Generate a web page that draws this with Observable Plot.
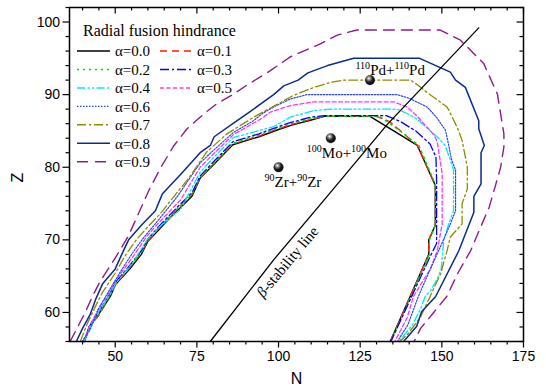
<!DOCTYPE html>
<html><head><meta charset="utf-8">
<script src="https://cdn.jsdelivr.net/npm/d3@7"></script>
<script src="https://cdn.jsdelivr.net/npm/@observablehq/plot@0.6"></script>
<style>
body{margin:0;background:#fff;}
#chart{width:546px;height:392px;}
</style></head><body><div id="chart"></div>
<script>
// ---------- data ----------
const xMajor = [50, 75, 100, 125, 150, 175];
const yMajor = [60, 70, 80, 90, 100];
const xMinor = [40,45,55,60,65,70,80,85,90,95,105,110,115,120,130,135,140,145,155,160,165,170];
const yMinor = [56,58,62,64,66,68,72,74,76,78,82,84,86,88,92,94,96,98,102];

const legendTitle = "Radial fusion hindrance";
const alphaLabels = ["α=0.0","α=0.1","α=0.2","α=0.3","α=0.4","α=0.5","α=0.6","α=0.7","α=0.8","α=0.9"];

const a00 = [[40.5,56],[42,58],[45,59.8],[48.5,62.2],[50,63.8],[54.5,66],[58,68],[60,69.8],[63,71.2],[66,72.7],[69,74],[73.5,76],[76,78.5],[80,80.3],[86,83.1],[94,84.2],[100,85.2],[104,85.8],[110,86.5],[114,87],[128,87],[142.5,83],[147.5,78],[148,77.5],[148,72],[146,70],[146,68],[134.2,56]];
const a01 = [[40.5,56],[42,58],[45,59.6],[48.5,62.4],[50,63.8],[54.5,66.2],[58,68.2],[60,69.8],[63,71.4],[66,72.8],[69,74.2],[73.5,76.2],[76,78.5],[80,80.4],[86,83.2],[94,84.3],[100,85.3],[104,85.9],[110,86.6],[114,87],[130,87],[134,86.3],[142.5,83],[147.5,78],[148,77.5],[148,72],[146,70],[146,68],[134.2,56]];
const a02 = [[40.6,56],[42.2,58],[45,59.9],[48.5,62.5],[50,64],[54.5,66.3],[58,68.3],[60,70],[63,71.5],[66,72.9],[69,74.3],[73.5,76.3],[76,78.6],[80,80.5],[86,83.3],[94,84.4],[100,85.4],[104,86],[110,86.7],[114,87],[131,87],[136.3,85.3],[143,83],[147.7,78],[148,77.5],[148,72],[146.2,70],[146.2,68],[134.4,56]];
const a03 = [[40.6,56],[42.3,58.2],[45,60.1],[48.5,62.7],[50,64.1],[54.5,66.5],[58,68.5],[60,70.1],[63,71.7],[66,73.1],[69,74.5],[73.5,76.5],[76,78.8],[80,80.7],[86,83.5],[94,84.6],[100,85.6],[104,86.2],[110,86.9],[114,87.1],[133,87.1],[137.3,86.3],[142,85],[146.4,83.2],[148.2,81.4],[148.4,78],[148.4,69.5],[146.2,67.5],[134.4,56]];
const a04 = [[40.5,56],[42.3,58],[45.4,60.4],[48.5,62.6],[50,63.9],[55.6,67],[59.7,70],[63,71.6],[70,74.2],[76,79.3],[80,81.3],[86.2,84.1],[92,84.8],[98.5,85.6],[103.6,86.9],[110.8,87.8],[116,88],[136.3,88],[139.4,87.4],[142.5,86.6],[146,85.2],[149,84],[151,83],[152.6,81],[153.6,79.6],[153.6,74],[152.1,72.2],[150.6,70],[149.8,66],[148.5,64.5],[146.5,63],[144.9,62.2],[143.5,60.5],[141,58.3],[136.9,56]];
const a05 = [[40.3,56],[42.2,58.2],[45,60.6],[48.5,63],[50,64.3],[55.6,67.8],[59.7,70.5],[63,72.2],[70,75.5],[76,80],[80,81.8],[86.2,84.5],[94.4,86.6],[97.5,87.6],[103.6,88.5],[110.8,89],[135.3,89],[139.4,88.3],[142.5,87],[145.5,85.5],[147.5,84.5],[148.6,83.5],[150.1,79.1],[150.1,72.2],[148.6,68.5],[146.5,66],[144,64.2],[141.3,62.2],[139.4,59.3],[135.6,56]];
const a06 = [[39.8,56],[42.3,57.6],[45,60.6],[48.5,63.3],[52,65.9],[55.6,68.4],[58.7,70.3],[62.8,72.5],[68.9,75.9],[76,80.6],[80,82.3],[86.2,84.8],[92,86.3],[95.4,87.5],[98.5,88.3],[103.6,89.4],[108.7,90],[136.3,90],[140,89.5],[145.5,88.3],[148.5,86.8],[151.1,85.1],[151.8,83.7],[153,81],[154.2,79.6],[154.2,74],[152.6,72.2],[150.5,70],[148.5,68],[146,65.5],[142.8,62.2],[139.6,58.3],[136.4,56]];
const a07 = [[39.3,56],[41.5,58.5],[43.9,60.8],[46,62.7],[50,65.4],[53,67.8],[56.6,70.1],[60,71.8],[63.8,73.6],[68,76],[72.5,78.5],[78,82.1],[84.2,84.6],[92.4,86.9],[98.5,88.4],[104.6,89.9],[110.8,91],[116,91.7],[120,92],[140.4,92],[143,91.2],[145.5,90.3],[151.6,88.3],[154.7,85.5],[156.2,83.7],[157.8,80],[157.8,77],[156.2,75],[156.2,72.2],[152.6,70.4],[151.6,68.5],[149.6,65.3],[146.4,62.2],[143.4,59.3],[139.5,57],[137.2,56]];
const a08 = [[38.1,56],[40,57.8],[42.3,59.7],[44,61.8],[46.2,64],[50,66],[52,68],[54.1,70],[58,72],[62.3,74],[64.4,76.3],[70,79],[76,82],[79.1,83],[80.3,84.2],[86,86],[91.4,87.7],[98.5,90],[101.6,91.2],[106,92],[109,93],[115,94],[123,95],[143.2,95],[152.6,93.1],[154.2,92],[157.2,91],[161.3,86.4],[161.3,85.3],[163,83],[162,82],[162,77.7],[159.8,76],[159.8,73.8],[155.2,68.5],[148.1,62.2],[143.8,60.1],[142.3,58.1],[138.3,56]];
const a09 = [[36.2,56],[38.5,58],[40.8,60],[43,62.2],[45.4,64.3],[50,67.5],[54,70.5],[57.5,74],[60.5,77],[64,80],[68,83],[72,85.3],[77,87.3],[81,88.7],[86,90],[90.3,91.3],[97.5,93.3],[103.6,95.2],[112.8,97],[118,98.2],[124,98.9],[149.5,98.9],[155.7,97.5],[162.8,94.3],[167,90.1],[169,84.6],[169,82.8],[168,80],[166.3,77.3],[164.5,74.5],[162.3,72.2],[158.8,68.5],[155,65.5],[151.5,62.2],[147.5,60],[143.5,57.8],[141.5,56]];

const betaN = [79.1, 98.5, 113.8, 133.3, 161.3];
const betaZ = [56, 67.25, 75.4, 85.9, 99.2];
const betaText = "β-stability line";

const nucleiName = ["90Zr+90Zr", "100Mo+100Mo", "110Pd+110Pd"];
const nucleiN = [100, 116, 128];
const nucleiZ = [80, 84, 92];

// ---------- styles ----------
const curves = [a00,a01,a02,a03,a04,a05,a06,a07,a08,a09];
const styles = [
  {stroke:"#000000", dash:null, w:1.4},
  {stroke:"#ff1a00", dash:"7,5", w:1.3},
  {stroke:"#00e000", dash:"2,4", w:1.4},
  {stroke:"#0000ff", dash:"9,3,2,3", w:1.3},
  {stroke:"#00e5ff", dash:"8,2.5,2,2.5,2,2.5", w:1.3},
  {stroke:"#ff33ff", dash:"4,2.5", w:1.3},
  {stroke:"#2846f0", dash:"1.5,1.5", w:1.2},
  {stroke:"#8c8c00", dash:"9,3,2,3", w:1.3},
  {stroke:"#0a2b8f", dash:null, w:1.5},
  {stroke:"#8c1a8c", dash:"11,7", w:1.4}
];

const serif = "'Liberation Serif','Times New Roman',serif";
const sans = "'Liberation Sans',Arial,sans-serif";
const W = 546, H = 392, mL = 69, mR = 23, mT = 7, mB = 51;
const innerW = W - mL - mR, innerH = H - mT - mB;

const curveMarks = curves.map((c, i) => Plot.line(c.map(p => ({N:p[0], Z:p[1]})), {
  x: "N", y: "Z", stroke: styles[i].stroke, strokeWidth: styles[i].w,
  strokeDasharray: styles[i].dash, strokeLinejoin: "round"
}));

const betaData = betaN.map((n, i) => ({N:n, Z:betaZ[i]}));
const nuclei = nucleiName.map((s, i) => ({name:s, N:nucleiN[i], Z:nucleiZ[i]}));
const labelOffsets = [[-14, 20], [-24, 19.5], [-14.5, -5]];

const fig = Plot.plot({
  width: W, height: H,
  marginLeft: mL, marginRight: mR, marginTop: mT, marginBottom: mB,
  style: {fontFamily: sans, fontSize: "14px", background: "white", color: "black"},
  x: {domain: [36, 175]},
  y: {domain: [56, 102]},
  marks: [
    ...curveMarks,
    Plot.line(betaData, {x:"N", y:"Z", stroke:"black", strokeWidth:1.3}),
    Plot.text([betaData[1]], {x:"N", y:"Z", text: () => betaText, rotate: -50, dx: 14, dy: 2,
      fontFamily: serif, fontSize: 15, textAnchor: "middle", lineAnchor: "middle"}),
    Plot.dot(nuclei, {x:"N", y:"Z", r: 4.8, fill: "url(#ballGrad)", stroke: "#000", strokeWidth: 0.3}),
    ...nuclei.map((d, i) => Plot.text([d], {x:"N", y:"Z", text:"name", dx: labelOffsets[i][0], dy: labelOffsets[i][1],
      textAnchor:"start", lineAnchor:"bottom", fontFamily: serif, fontSize: 15})),
    Plot.frame({stroke:"black", strokeWidth:1.5}),
    Plot.axisX(xMajor, {anchor:"bottom", tickSize:6.5, tickPadding:3, fontSize:14, label:null, strokeWidth:1.2, tickFormat: d => String(d)}),
    Plot.axisX(xMinor, {anchor:"bottom", tickSize:3.5, label:null, strokeWidth:1.2, tickFormat: () => ""}),
    Plot.axisY(yMajor, {anchor:"left", tickSize:6.5, tickPadding:3, fontSize:14, label:null, strokeWidth:1.2, tickFormat: d => String(d)}),
    Plot.axisY(yMinor, {anchor:"left", tickSize:3.5, label:null, strokeWidth:1.2, tickFormat: () => ""}),
    Plot.tickX(xMajor, {x: d => d, insetBottom: innerH - 6.5, stroke:"black", strokeWidth:1.2}),
    Plot.tickX(xMinor, {x: d => d, insetBottom: innerH - 3.5, stroke:"black", strokeWidth:1.2}),
    Plot.tickY(yMajor, {y: d => d, insetLeft: innerW - 6.5, stroke:"black", strokeWidth:1.2}),
    Plot.tickY(yMinor, {y: d => d, insetLeft: innerW - 3.5, stroke:"black", strokeWidth:1.2}),
    Plot.text([0], {frameAnchor:"left", dx:-52, dy:8, rotate:-90, text: () => "Z", fontSize:16, fontFamily: sans}),
    Plot.text([0], {frameAnchor:"bottom", dy:42, text: () => "N", fontSize:16, fontFamily: sans})
  ]
});
document.getElementById("chart").appendChild(fig);

// ---------- post-processing ----------
const svg = d3.select(fig);
const defs = svg.insert("defs", ":first-child");
const grad = defs.append("radialGradient").attr("id","ballGrad").attr("cx","0.38").attr("cy","0.32").attr("r","0.7");
[[0,"#ffffff"],[0.22,"#9a9a9a"],[0.55,"#222222"],[1,"#000000"]].forEach(([o,c]) =>
  grad.append("stop").attr("offset", o).attr("stop-color", c));

// superscripts in nucleus labels, italic beta
svg.selectAll("text").each(function() {
  const t = this.textContent;
  const sel = d3.select(this);
  if (nucleiName.includes(t)) {
    const parts = t.match(/\d+|[^\d]+/g);
    sel.text(null);
    let raised = false;
    parts.forEach(p => {
      if (/^\d+$/.test(p)) {
        sel.append("tspan").attr("font-size", 10).attr("dy", raised ? 0 : -6).text(p);
        raised = true;
      } else {
        sel.append("tspan").attr("dy", raised ? 6 : 0).text(p);
        raised = false;
      }
    });
  } else if (t === betaText) {
    sel.text(null);
    sel.append("tspan").attr("font-style","italic").text("β");
    sel.append("tspan").text("-stability line");
  }
});

// legend
const lg = svg.append("g").attr("font-family", serif).attr("font-size", 15)
  .attr("fill", "black").attr("text-anchor", "start");
lg.append("text").attr("x", 83).attr("y", 36).attr("font-size", 16).text(legendTitle);
const cols = [[0,2,4,6,7,8,9],[1,3,5]];
const colX = [[77,110,115],[160,192,197]];
cols.forEach((col, ci) => col.forEach((idx, r) => {
  const y = 51 + r * 18.45;
  const s = styles[idx];
  lg.append("line").attr("x1", colX[ci][0]).attr("x2", colX[ci][1]).attr("y1", y).attr("y2", y)
    .attr("stroke", s.stroke).attr("stroke-width", s.w + 0.2).attr("stroke-dasharray", s.dash);
  lg.append("text").attr("x", colX[ci][2]).attr("y", y).attr("dy", "0.35em").text(alphaLabels[idx]);
}));
</script>
</body></html>
